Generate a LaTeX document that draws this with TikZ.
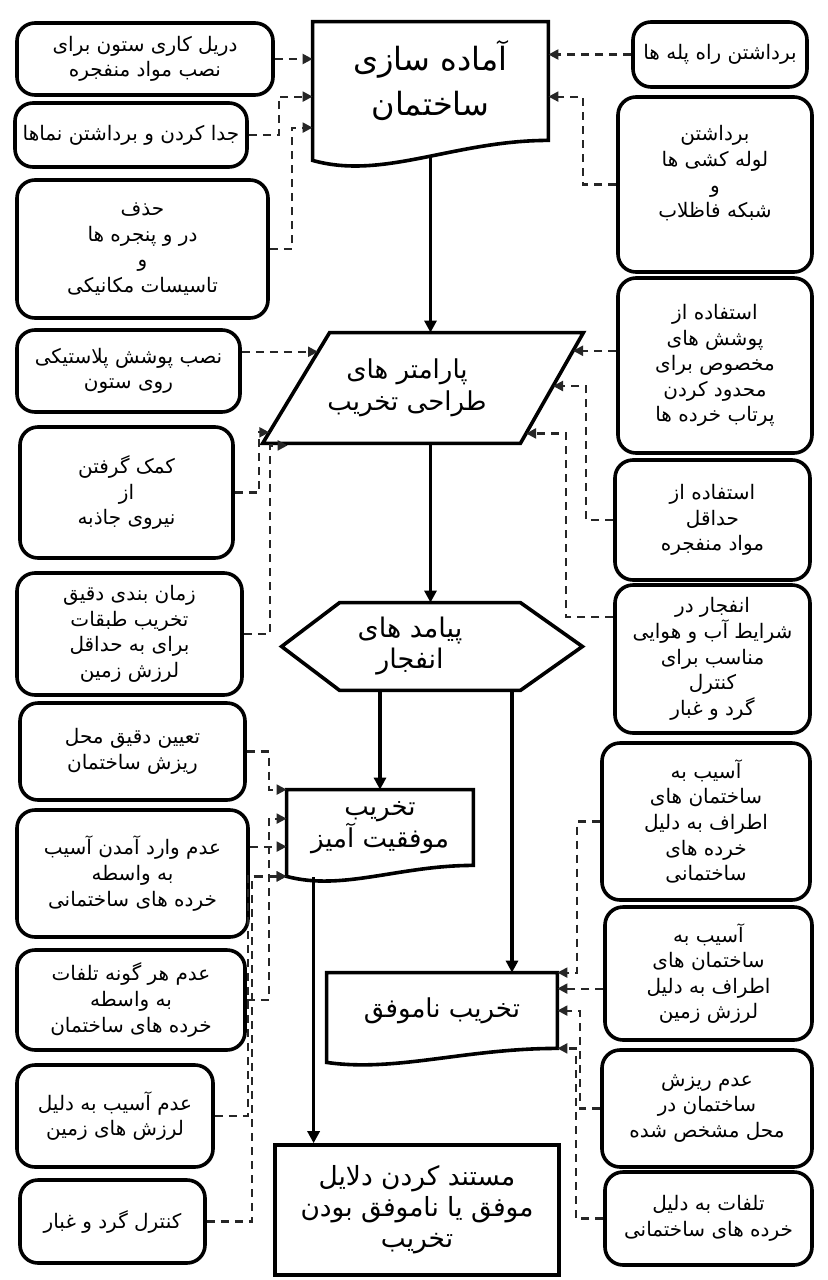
\documentclass[tikz,border=0pt]{standalone}
\usepackage{fontspec}
\newfontfamily\fafont[Script=Arabic]{DejaVu Sans}
\TeXXeTstate=1
\usepackage{tikz}
\usetikzlibrary{arrows.meta,calc}
\newcommand{\fa}[1]{\beginR #1\endR}
\newcommand{\docshape}[3]{%
  \draw[shp] (#1.south east) -- (#1.north east) -- (#1.north west) -- ($(#1.south west)+(0,#2)$)
    .. controls ($(#1.south west)!0.3!(#1.south east)+(0,#3)$) and ($(#1.south west)!0.6!(#1.south east)$) .. (#1.south east) -- cycle;}

\begin{document}
\begin{tikzpicture}[x=0.5pt,y=-0.5pt,
  box/.style={draw,line width=1.8pt,rounded corners=9pt,align=center,inner sep=0pt,font=\fafont\fontsize{10}{12.8}\selectfont},
  core/.style={align=center,inner sep=0pt,font=\fafont\fontsize{13}{16}\selectfont},
  shp/.style={draw,line width=1.8pt,line join=miter},
  arr/.style={-{Triangle[length=6pt,width=6pt]},line width=1.6pt},
  dsh/.style={-{Triangle[length=5pt,width=5pt]},line width=1.1pt,draw=black!85,dash pattern=on 4pt off 3pt}]
\path[use as bounding box,fill=white] (0,0) rectangle (828,1280);
% center column
\node[core,minimum width=117.5pt,minimum height=59pt,font=\fafont\fontsize{16}{22.5}\selectfont] (prep) at (430.5,81) {\fa{آماده سازی}\\\fa{ساختمان}};
\docshape{prep}{20}{40}
\node[core,minimum width=160pt,minimum height=55pt] (param) at (407,388) {\fa{پارامتر های}\\\fa{طراحی تخریب}};
\coordinate (pa) at ($(param.north west)+(83,0)$);
\coordinate (pb) at ($(param.north east)+(16,0)$);
\coordinate (pc) at ($(param.south east)+(-47,0)$);
\coordinate (pd) at ($(param.south west)+(16,0)$);
\draw[shp] (pa) -- (pb) -- (pc) -- (pd) -- cycle;
\node[core,minimum width=150pt,minimum height=43.5pt,font=\fafont\fontsize{13.5}{15.5}\selectfont] (outc) at (410,646.5) {\fa{پیامد های}\\\fa{انفجار}};
\draw[shp] ($(outc.north west)+(80,0)$) -- ($(outc.north east)+(-40,0)$) -- ($(outc.east)+(22,0)$) -- ($(outc.south east)+(-40,0)$) -- ($(outc.south west)+(80,0)$) -- ($(outc.west)+(22,0)$) -- cycle;
\node[core,minimum width=93pt,minimum height=37.5pt] (succ) at (380,827.5) {\fa{تخریب}\\\fa{موفقیت آمیز}};
\docshape{succ}{11}{26}
\node[core,minimum width=115pt,minimum height=37.5pt] (fail) at (442,1010.5) {\fa{تخریب ناموفق}};
\docshape{fail}{14}{24}
\node[core,shp,minimum width=142pt,minimum height=65pt,font=\fafont\fontsize{13.2}{15.5}\selectfont] (docu) at (417,1210) {\fa{مستند کردن دلایل}\\\fa{موفق یا ناموفق بودن}\\\fa{تخریب}};
% left column
\node[box,minimum width=128pt,minimum height=36pt] (l1) at (145,59) {\fa{دریل کاری ستون برای}\\\fa{نصب مواد منفجره}};
\node[box,minimum width=116pt,minimum height=32pt] (l2) at (131,135) {\fa{جدا کردن و برداشتن نماها}};
\node[box,minimum width=125.5pt,minimum height=69pt] (l3) at (142.5,249) {\fa{حذف}\\\fa{در و پنجره ها}\\\fa{و}\\\fa{تاسیسات مکانیکی}};
\node[box,minimum width=111.5pt,minimum height=41pt] (l4) at (128.5,371) {\fa{نصب پوشش پلاستیکی}\\\fa{روی ستون}};
\node[box,minimum width=106.5pt,minimum height=65.5pt] (l5) at (126.5,492.5) {\fa{کمک گرفتن}\\\fa{از}\\\fa{نیروی جاذبه}};
\node[box,minimum width=112.5pt,minimum height=61pt] (l6) at (129.5,634) {\fa{زمان بندی دقیق}\\\fa{تخریب طبقات}\\\fa{برای به حداقل}\\\fa{لرزش زمین}};
\node[box,minimum width=112.5pt,minimum height=48.5pt] (l7) at (132.5,751.5) {\fa{تعیین دقیق محل}\\\fa{ریزش ساختمان}};
\node[box,minimum width=115.5pt,minimum height=63.5pt] (l8) at (132.5,873.5) {\fa{عدم وارد آمدن آسیب}\\\fa{به واسطه}\\\fa{خرده های ساختمانی}};
\node[box,minimum width=114pt,minimum height=50pt] (l9) at (131,1000) {\fa{عدم هر گونه تلفات}\\\fa{به واسطه}\\\fa{خرده های ساختمان}};
\node[box,minimum width=98pt,minimum height=51pt] (l10) at (115,1116) {\fa{عدم آسیب به دلیل}\\\fa{لرزش های زمین}};
\node[box,minimum width=92.5pt,minimum height=41.5pt] (l11) at (112.5,1221.5) {\fa{کنترل گرد و غبار}};
% right column
\node[box,minimum width=87pt,minimum height=32.5pt] (r1) at (720,54.5) {\fa{برداشتن راه پله ها}};
\node[box,minimum width=97pt,minimum height=87.5pt] (r2) at (715,184.5) {\fa{برداشتن}\\\fa{لوله کشی ها}\\\fa{و}\\\fa{شبکه فاظلاب}\\\mbox{}};
\node[box,minimum width=97pt,minimum height=87.5pt] (r3) at (715,365.5) {\fa{استفاده از}\\\fa{پوشش های}\\\fa{مخصوص برای}\\\fa{محدود کردن}\\\fa{پرتاب خرده ها}};
\node[box,minimum width=97.5pt,minimum height=60pt] (r4) at (712.5,520) {\fa{استفاده از}\\\fa{حداقل}\\\fa{مواد منفجره}};
\node[box,minimum width=97.5pt,minimum height=74pt] (r5) at (712.5,659) {\fa{انفجار در}\\\fa{شرایط آب و هوایی}\\\fa{مناسب برای}\\\fa{کنترل}\\\fa{گرد و غبار}};
\node[box,minimum width=104pt,minimum height=78.5pt] (r6) at (706,821.5) {\fa{آسیب به}\\\fa{ساختمان های}\\\fa{اطراف به دلیل}\\\fa{خرده های}\\\fa{ساختمانی}};
\node[box,minimum width=103.5pt,minimum height=66.5pt] (r7) at (708.5,973.5) {\fa{آسیب به}\\\fa{ساختمان های}\\\fa{اطراف به دلیل}\\\fa{لرزش زمین}};
\node[box,minimum width=105pt,minimum height=58.5pt] (r8) at (707,1108.5) {\fa{عدم ریزش}\\\fa{ساختمان در}\\\fa{محل مشخص شده}};
\node[box,minimum width=103.5pt,minimum height=46.5pt] (r9) at (708.5,1218.5) {\fa{تلفات به دلیل}\\\fa{خرده های ساختمانی}};
% main flow
\draw[arr] ($(prep.south)+(0,16)$) -- (prep.south |- param.north);
\draw[arr] (param.south -| prep.south) -- (prep.south |- outc.north);
\draw[arr] (outc.south -| succ.north) -- (succ.north);
\coordinate (fa) at ($(fail.north)+(70,0)$);
\draw[arr] (outc.south -| fa) -- (fa);
\coordinate (sb) at ($(succ.south west)+(27,12)$);
\draw[arr] (sb) -- (sb |- docu.north);
% dashed inputs
\draw[dsh] (l1.east) -- (l1.east -| prep.west);
\draw[dsh] (l2.east) -- ++(30,0) |- ($(prep.north west)+(0,75)$);
\draw[dsh] (l3.east) -- ++(22,0) |- ($(prep.north west)+(0,106)$);
\draw[dsh] (r1.west) -- (r1.west -| prep.east);
\draw[dsh] (r2.west) -- ++(-33,0) |- ($(prep.north east)+(0,75)$);
\coordinate (q4) at ($(pd)!0.827!(pa)$);
\coordinate (q5) at ($(pd)!0.1!(pa)$);
\draw[dsh] (q4 -| l4.east) -- (q4);
\draw[dsh] (l5.east) -- ++(24,0) |- (q5);
\draw[dsh] (l6.east) -- ++(26,0) |- ($(pd)+(25,2)$);
\coordinate (q3) at ($(pc)!0.836!(pb)$);
\coordinate (q6) at ($(pc)!0.518!(pb)$);
\coordinate (q7) at ($(pc)!0.09!(pb)$);
\draw[dsh] (q3 -| r3.west) -- (q3);
\draw[dsh] (r4.west) -- ++(-27,0) |- (q6);
\draw[dsh] ([yshift=21pt]r5.west) -- ++(-47,0) |- (q7);
\draw[dsh] (l7.east) -- ++(22,0) |- (succ.north west);
\coordinate (c8) at ($(succ.north west)+(0,57)$);
\draw[dsh] (c8 -| l8.east) -- (c8);
\draw[dsh] (l9.east) -- ++(22,0) |- ($(succ.north west)+(0,29)$);
\draw[dsh] (l10.east) -- ++(33,0) |- ($(succ.south west)+(0,11)$);
\draw[dsh] (l11.east) -- ++(45,0) |- ($(succ.south west)+(0,11)$);
\draw[dsh] (r6.west) -- ++(-23,0) |- (fail.north east);
\coordinate (d7) at ($(fail.north east)+(0,16)$);
\draw[dsh] (d7 -| r7.west) -- (d7);
\draw[dsh] (r8.west) -- ++(-20,0) |- ($(fail.north east)+(0,38)$);
\draw[dsh] (r9.west) -- ++(-27,0) |- (fail.south east);
\end{tikzpicture}
\end{document}
